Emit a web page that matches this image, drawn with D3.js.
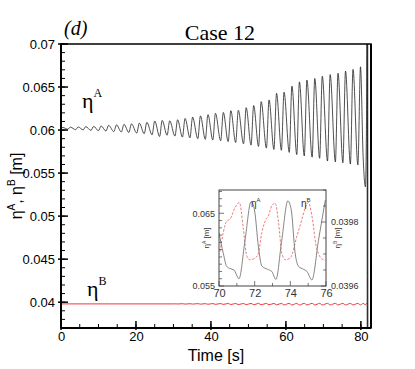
<!DOCTYPE html>
<meta charset="utf-8">
<head>
<script src="https://d3js.org/d3.v7.min.js"></script>
<style>
body { margin: 0; background: #fff; }
svg { font-family: "Liberation Sans", Arial, sans-serif; }
.serif { font-family: "Liberation Serif", "Times New Roman", serif; }
</style>
</head>
<body>
<script>

// eta^A over the whole run (peaks and troughs)
var timeA = [0, 0.5, 1.8, 2.5, 3.9, 4.6, 5.9, 6.6, 8.0, 8.7, 10.0, 10.7, 12.0, 12.7, 14.1, 14.8,
  16.1, 16.8, 18.1, 18.8, 20.2, 20.9, 22.2, 22.9, 24.3, 25.0, 26.3, 27.0, 28.3, 29.0, 30.4, 31.1,
  32.4, 33.1, 34.4, 35.1, 36.5, 37.2, 38.5, 39.2, 40.5, 41.2, 42.6, 43.3, 44.6, 45.3, 46.6, 47.3,
  48.7, 49.4, 50.7, 51.4, 52.7, 53.4, 54.8, 55.5, 56.8, 57.5, 58.8, 59.5, 60.9, 61.6, 62.9, 63.6,
  64.9, 65.6, 67.0, 67.7, 69.0, 69.7, 71.1, 71.8, 73.2, 73.9, 75.2, 75.9, 77.2, 77.9, 79.2, 79.9,
  80.6, 81.2, 81.5, 81.65, 81.72, 81.8, 81.88];
var etaA = [0.06020, 0.06030, 0.06010, 0.06034, 0.06005, 0.06036, 0.06002, 0.06040, 0.05996, 0.06043,
  0.05992, 0.06048, 0.05988, 0.06055, 0.05982, 0.06060, 0.05978, 0.06066, 0.05972, 0.06072,
  0.05965, 0.06080, 0.05958, 0.06090, 0.05945, 0.06105, 0.05925, 0.06112, 0.05940, 0.06108,
  0.05930, 0.06120, 0.05918, 0.06135, 0.05910, 0.06150, 0.05900, 0.06165, 0.05892, 0.06180,
  0.05885, 0.06195, 0.05875, 0.06205, 0.05865, 0.06225, 0.05855, 0.06230, 0.05840, 0.06260,
  0.05825, 0.06285, 0.05810, 0.06330, 0.05790, 0.06350, 0.05775, 0.06427, 0.05765, 0.06440,
  0.05740, 0.06510, 0.05715, 0.06560, 0.05700, 0.06580, 0.05685, 0.06600, 0.05672, 0.06625,
  0.05640, 0.06645, 0.05630, 0.06660, 0.05620, 0.06685, 0.05605, 0.06705, 0.05595, 0.06735,
  0.0569, 0.0534, 0.0610, 0.0760, 0.0330, 0.0760, 0.0330];

// eta^B over the whole run
var timeB = [0, 30.0, 30.4, 31.1, 32.4, 33.1, 34.4, 35.1, 36.5, 37.2, 38.5, 39.2, 40.5, 41.2,
  42.6, 43.3, 44.6, 45.3, 46.6, 47.3, 48.7, 49.4, 50.7, 51.4, 52.7, 53.4, 54.8, 55.5, 56.8, 57.5,
  58.8, 59.5, 60.9, 61.6, 62.9, 63.6, 64.9, 65.6, 67.0, 67.7, 69.0, 69.7, 71.1, 71.8, 73.2, 73.9,
  75.2, 75.9, 77.2, 77.9, 79.2, 79.9, 80.6, 81.2, 81.6];
var etaB = [0.03980, 0.03980, 0.03981, 0.03979, 0.03982, 0.03978, 0.03982, 0.03978, 0.03983, 0.03977,
  0.03983, 0.03976, 0.03984, 0.03975, 0.03984, 0.03974, 0.03985, 0.03973, 0.03985, 0.03972,
  0.03985, 0.03971, 0.03986, 0.03970, 0.03986, 0.03970, 0.03986, 0.03969, 0.03986, 0.03969,
  0.03986, 0.03968, 0.03986, 0.03968, 0.03986, 0.03968, 0.03986, 0.03968, 0.03986, 0.03968,
  0.03986, 0.03968, 0.03986, 0.03968, 0.03986, 0.03968, 0.03986, 0.03968, 0.03986, 0.03968,
  0.03986, 0.03968, 0.03986, 0.03970, 0.03990];

// zoomed window 70-76 s
var insetTimeA = [70.0, 70.24, 70.43, 70.62, 70.84, 71.12, 71.46, 71.8, 71.99, 72.21, 72.4, 72.72,
  72.96, 73.19, 73.52, 73.86, 74.05, 74.27, 74.46, 74.74, 74.93, 75.21, 75.58, 75.96];
var insetEtaA = [0.0623, 0.0595, 0.0577, 0.0574, 0.0572, 0.0560, 0.0613, 0.0666, 0.06545, 0.0604,
  0.05775, 0.0573, 0.0570, 0.0559, 0.0613, 0.0667, 0.0655, 0.0595, 0.0577, 0.0573, 0.0570,
  0.05583, 0.0613, 0.0668];
var insetTimeB = [70.06, 70.24, 70.43, 70.62, 70.90, 71.14, 71.37, 71.56, 71.74, 72.02, 72.21,
  72.40, 72.59, 72.77, 72.96, 73.15, 73.34, 73.52, 73.71, 73.99, 74.37, 74.65, 74.84, 75.02,
  75.21, 75.49, 75.87, 75.96];
var insetEtaB = [0.039708, 0.039767, 0.039803, 0.039809, 0.039845, 0.039861, 0.039777, 0.039693,
  0.039682, 0.039687, 0.039703, 0.039767, 0.039803, 0.039819, 0.039851, 0.039859, 0.039798,
  0.039703, 0.039682, 0.039687, 0.039756, 0.039809, 0.039845, 0.039861, 0.039819, 0.039714,
  0.039682, 0.039682];

// tick values
var xTicks = [0, 20, 40, 60, 80];
var yTicks = [0.04, 0.045, 0.05, 0.055, 0.06, 0.065, 0.07];
var insetXTicks = [70, 72, 74, 76];
var insetYTicksA = [0.055, 0.065];
var insetYTicksB = [0.0396, 0.0398];

(function() {
var W = 415, H = 369;
var pL = 61, pR = 371, pT = 44, pB = 328;

var svg = d3.select("body").append("svg")
    .attr("width", W)
    .attr("height", H);

var x = d3.scaleLinear().domain([0, 82.7]).range([pL, pR]);
var y = d3.scaleLinear().domain([0.037, 0.07]).range([pB, pT]);

svg.append("clipPath").attr("id", "clipMain")
  .append("rect")
    .attr("x", pL).attr("y", pT)
    .attr("width", pR - pL).attr("height", pB - pT);

var lineA = d3.line()
    .x(function(d, i) { return x(timeA[i]); })
    .y(function(d) { return y(d); })
    .curve(d3.curveMonotoneX);

var lineB = d3.line()
    .x(function(d, i) { return x(timeB[i]); })
    .y(function(d) { return y(d); })
    .curve(d3.curveMonotoneX);

svg.append("path")
    .datum(etaB)
    .attr("clip-path", "url(#clipMain)")
    .attr("fill", "none")
    .attr("stroke", "#e8202a")
    .attr("stroke-width", 0.9)
    .attr("d", lineB);

svg.append("path")
    .datum(etaA)
    .attr("clip-path", "url(#clipMain)")
    .attr("fill", "none")
    .attr("stroke", "#222")
    .attr("stroke-width", 0.8)
    .attr("d", lineA);

// minor and major ticks, pointing into the plot
var yMinor = d3.range(0.037, 0.0701, 0.001);
svg.append("g").selectAll("line").data(yMinor).enter().append("line")
    .attr("x1", pL).attr("x2", pL + 4)
    .attr("y1", function(d) { return y(d); })
    .attr("y2", function(d) { return y(d); })
    .attr("stroke", "#000").attr("stroke-width", 1);
svg.append("g").selectAll("line").data(yTicks).enter().append("line")
    .attr("x1", pL - 3).attr("x2", pL + 7)
    .attr("y1", function(d) { return y(d); })
    .attr("y2", function(d) { return y(d); })
    .attr("stroke", "#000").attr("stroke-width", 1.5);

var xMinor = d3.range(0, 83, 5);
svg.append("g").selectAll("line").data(xMinor).enter().append("line")
    .attr("x1", function(d) { return x(d); })
    .attr("x2", function(d) { return x(d); })
    .attr("y1", pB).attr("y2", pB - 4)
    .attr("stroke", "#000").attr("stroke-width", 1);
svg.append("g").selectAll("line").data(xTicks).enter().append("line")
    .attr("x1", function(d) { return x(d); })
    .attr("x2", function(d) { return x(d); })
    .attr("y1", pB + 2).attr("y2", pB - 7)
    .attr("stroke", "#000").attr("stroke-width", 1.5);

// tick labels through the axes
var yAxis = svg.append("g")
    .attr("transform", "translate(" + pL + ",0)")
    .call(d3.axisLeft(y).tickValues(yTicks).tickSize(0).tickPadding(6)
      .tickFormat(function(d) { return String(+d.toFixed(3)); }));
yAxis.select(".domain").remove();
yAxis.selectAll("text").style("font-size", "13px").attr("fill", "#000");

var xAxis = svg.append("g")
    .attr("transform", "translate(0," + pB + ")")
    .call(d3.axisBottom(x).tickValues(xTicks).tickSize(0).tickPadding(4));
xAxis.select(".domain").remove();
xAxis.selectAll("text").style("font-size", "13px").attr("fill", "#000");

// frame
svg.append("rect")
    .attr("x", pL).attr("y", pT)
    .attr("width", pR - pL).attr("height", pB - pT)
    .attr("fill", "none").attr("stroke", "#000").attr("stroke-width", 1.5);
svg.append("line").attr("x1", pL).attr("x2", pL).attr("y1", pT).attr("y2", pB)
    .attr("stroke", "#000").attr("stroke-width", 2);
svg.append("line").attr("x1", pL).attr("x2", pR).attr("y1", pB).attr("y2", pB)
    .attr("stroke", "#000").attr("stroke-width", 2);
svg.append("line").attr("x1", pR).attr("x2", pR).attr("y1", pT).attr("y2", pB)
    .attr("stroke", "#000").attr("stroke-width", 2);

// axis titles
svg.append("text")
    .attr("x", (pL + pR) / 2).attr("y", 361)
    .attr("text-anchor", "middle")
    .style("font-size", "16px")
    .text("Time [s]");

var yl = svg.append("text")
    .attr("transform", "translate(22," + ((pT + pB) / 2) + ") rotate(-90)")
    .attr("text-anchor", "middle")
    .style("font-size", "16px");
yl.append("tspan").text("η");
yl.append("tspan").attr("dy", -7).style("font-size", "10px").text("A");
yl.append("tspan").attr("dy", 7).text(", η");
yl.append("tspan").attr("dy", -7).style("font-size", "10px").text("B");
yl.append("tspan").attr("dy", 7).text(" [m]");

// title and panel letter
svg.append("text").attr("class", "serif")
    .attr("x", 220).attr("y", 40)
    .attr("text-anchor", "middle")
    .style("font-size", "22px")
    .text("Case 12");
svg.append("text").attr("class", "serif")
    .attr("x", 64).attr("y", 35)
    .style("font-size", "20px").style("font-style", "italic")
    .text("(d)");

// curve labels
var la = svg.append("text").attr("class", "serif").attr("x", 82).attr("y", 108)
    .style("font-size", "22px");
la.append("tspan").text("η");
la.append("tspan").attr("dy", -11).style("font-size", "12px").text("A");
var lb = svg.append("text").attr("class", "serif").attr("x", 87).attr("y", 296)
    .style("font-size", "22px");
lb.append("tspan").text("η");
lb.append("tspan").attr("dy", -11).style("font-size", "12px").text("B");

// ---- inset ----
var iL = 219, iR = 326, iT = 190, iB = 286;
var xi = d3.scaleLinear().domain([70, 76]).range([iL, iR]);
var yiA = d3.scaleLinear().domain([0.055, 0.0682]).range([iB, iT]);
var yiB = d3.scaleLinear().domain([0.0396, 0.0399]).range([iB, iT]);

svg.append("rect")
    .attr("x", iL).attr("y", iT).attr("width", iR - iL).attr("height", iB - iT)
    .attr("fill", "#fff");

svg.append("clipPath").attr("id", "clipInset")
  .append("rect")
    .attr("x", iL).attr("y", iT).attr("width", iR - iL).attr("height", iB - iT);

svg.append("path")
    .datum(insetEtaB)
    .attr("clip-path", "url(#clipInset)")
    .attr("fill", "none")
    .attr("stroke", "#f06a6a")
    .attr("stroke-width", 0.9)
    .attr("stroke-dasharray", "2.5,1.5")
    .attr("d", d3.line()
      .x(function(d, i) { return xi(insetTimeB[i]); })
      .y(function(d) { return yiB(d); })
      .curve(d3.curveMonotoneX));

svg.append("path")
    .datum(insetEtaA)
    .attr("clip-path", "url(#clipInset)")
    .attr("fill", "none")
    .attr("stroke", "#777")
    .attr("stroke-width", 0.9)
    .attr("d", d3.line()
      .x(function(d, i) { return xi(insetTimeA[i]); })
      .y(function(d) { return yiA(d); })
      .curve(d3.curveMonotoneX));

var ig = svg.append("g").attr("stroke", "#555").attr("stroke-width", 0.8);
ig.selectAll(".mx").data(d3.range(70, 76.1, 1)).enter().append("line")
    .attr("x1", function(d) { return xi(d); }).attr("x2", function(d) { return xi(d); })
    .attr("y1", iB).attr("y2", function(d) { return d % 2 === 0 ? iB - 5 : iB - 3; });
ig.selectAll(".my").data(d3.range(0.055, 0.0681, 0.001)).enter().append("line")
    .attr("x1", iL).attr("x2", function(d, i) { return i % 10 === 0 ? iL + 5 : iL + 3; })
    .attr("y1", function(d) { return yiA(d); }).attr("y2", function(d) { return yiA(d); });
ig.selectAll(".ry").data(d3.range(0.0396, 0.03991, 0.00005)).enter().append("line")
    .attr("x1", iR).attr("x2", function(d, i) { return i % 4 === 0 ? iR - 5 : iR - 3; })
    .attr("y1", function(d) { return yiB(d); }).attr("y2", function(d) { return yiB(d); });

svg.append("rect")
    .attr("x", iL).attr("y", iT).attr("width", iR - iL).attr("height", iB - iT)
    .attr("fill", "none").attr("stroke", "#444").attr("stroke-width", 1);

var ixAxis = svg.append("g")
    .attr("transform", "translate(0," + iB + ")")
    .call(d3.axisBottom(xi).tickValues(insetXTicks).tickSize(0).tickPadding(3)
      .tickFormat(d3.format("d")));
ixAxis.select(".domain").remove();
ixAxis.selectAll("text").style("font-size", "11px").attr("fill", "#333");

var iyAxis = svg.append("g")
    .attr("transform", "translate(" + iL + ",0)")
    .call(d3.axisLeft(yiA).tickValues(insetYTicksA).tickSize(0).tickPadding(4)
      .tickFormat(d3.format(".3f")));
iyAxis.select(".domain").remove();
iyAxis.selectAll("text").style("font-size", "9px").attr("fill", "#333");

var iyAxisB = svg.append("g")
    .attr("transform", "translate(" + iR + ",0)")
    .call(d3.axisRight(yiB).tickValues(insetYTicksB).tickSize(0).tickPadding(5)
      .tickFormat(d3.format(".4f")));
iyAxisB.select(".domain").remove();
iyAxisB.selectAll("text").style("font-size", "9px").attr("fill", "#333");

function insetLabel(xp, letter) {
  var t = svg.append("text")
      .attr("transform", "translate(" + xp + "," + ((iT + iB) / 2) + ") rotate(-90)")
      .attr("text-anchor", "middle")
      .style("font-size", "8px").attr("fill", "#333");
  t.append("tspan").text("η");
  t.append("tspan").attr("dy", -3).style("font-size", "5px").text(letter);
  t.append("tspan").attr("dy", 3).text(" [m]");
}
insetLabel(209, "A");
insetLabel(340, "B");

function insetTag(xp, letter) {
  var t = svg.append("text").attr("x", xp).attr("y", 207)
      .style("font-size", "10px").attr("fill", "#333");
  t.append("tspan").text("η");
  t.append("tspan").attr("dy", -5).style("font-size", "6px").text(letter);
}
insetTag(251, "A");
insetTag(301, "B");
})();

</script>
</body>
